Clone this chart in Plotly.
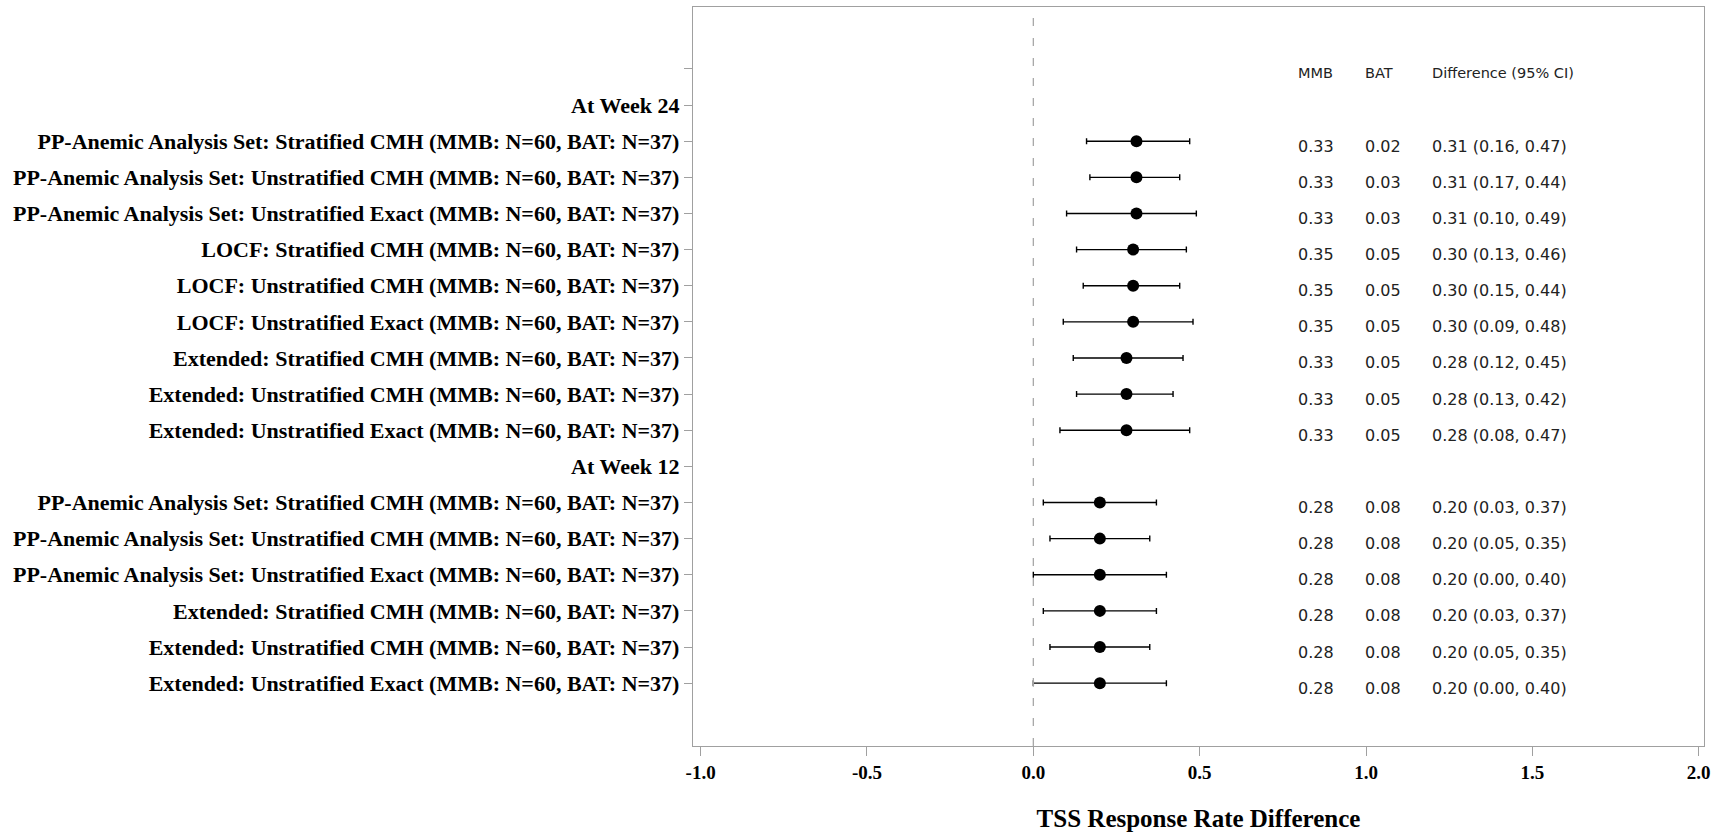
import plotly.graph_objects as go

# ---- data ----
row_labels = [
    "",
    "At Week 24",
    "PP-Anemic Analysis Set: Stratified CMH (MMB: N=60, BAT: N=37)",
    "PP-Anemic Analysis Set: Unstratified CMH (MMB: N=60, BAT: N=37)",
    "PP-Anemic Analysis Set: Unstratified Exact (MMB: N=60, BAT: N=37)",
    "LOCF: Stratified CMH (MMB: N=60, BAT: N=37)",
    "LOCF: Unstratified CMH (MMB: N=60, BAT: N=37)",
    "LOCF: Unstratified Exact (MMB: N=60, BAT: N=37)",
    "Extended: Stratified CMH (MMB: N=60, BAT: N=37)",
    "Extended: Unstratified CMH (MMB: N=60, BAT: N=37)",
    "Extended: Unstratified Exact (MMB: N=60, BAT: N=37)",
    "At Week 12",
    "PP-Anemic Analysis Set: Stratified CMH (MMB: N=60, BAT: N=37)",
    "PP-Anemic Analysis Set: Unstratified CMH (MMB: N=60, BAT: N=37)",
    "PP-Anemic Analysis Set: Unstratified Exact (MMB: N=60, BAT: N=37)",
    "Extended: Stratified CMH (MMB: N=60, BAT: N=37)",
    "Extended: Unstratified CMH (MMB: N=60, BAT: N=37)",
    "Extended: Unstratified Exact (MMB: N=60, BAT: N=37)",
]
# rows with estimates (index into row_labels)
est_rows = [2, 3, 4, 5, 6, 7, 8, 9, 10, 12, 13, 14, 15, 16, 17]
mmb = [0.33, 0.33, 0.33, 0.35, 0.35, 0.35, 0.33, 0.33, 0.33, 0.28, 0.28, 0.28, 0.28, 0.28, 0.28]
bat = [0.02, 0.03, 0.03, 0.05, 0.05, 0.05, 0.05, 0.05, 0.05, 0.08, 0.08, 0.08, 0.08, 0.08, 0.08]
diff = [0.31, 0.31, 0.31, 0.30, 0.30, 0.30, 0.28, 0.28, 0.28, 0.20, 0.20, 0.20, 0.20, 0.20, 0.20]
lower = [0.16, 0.17, 0.10, 0.13, 0.15, 0.09, 0.12, 0.13, 0.08, 0.03, 0.05, 0.00, 0.03, 0.05, 0.00]
upper = [0.47, 0.44, 0.49, 0.46, 0.44, 0.48, 0.45, 0.42, 0.47, 0.37, 0.35, 0.40, 0.37, 0.35, 0.40]
x_ticks = [-1.0, -0.5, 0.0, 0.5, 1.0, 1.5, 2.0]
x_tick_labels = ["-1.0", "-0.5", "0.0", "0.5", "1.0", "1.5", "2.0"]
col_headers = ["MMB", "BAT", "Difference (95% CI)"]
col_x = [0.8, 1.0, 1.2]
x_title = "TSS Response Rate Difference"

serif = "Liberation Serif"
sans = "DejaVu Sans"
frame = "#a0a0a0"

fig = go.Figure()
fig.add_trace(go.Scatter(
    x=diff, y=est_rows, mode="markers",
    marker=dict(color="black", size=12, symbol="circle"),
    error_x=dict(type="data", symmetric=False,
                 array=[u - d for u, d in zip(upper, diff)],
                 arrayminus=[d - l for d, l in zip(diff, lower)],
                 color="black", thickness=1.4, width=3),
    showlegend=False, hoverinfo="skip",
))

fig.add_shape(type="line", x0=0, x1=0, y0=0, y1=1, xref="x", yref="paper",
              line=dict(color="#a8a8a8", width=1.3, dash="8px,12px"))

annotations = []
for cx, h in zip(col_x, col_headers):
    annotations.append(dict(x=cx, y=0, xref="x", yref="y", text=h, showarrow=False,
                            xanchor="left", yanchor="middle", yshift=-4, xshift=-3,
                            font=dict(family=sans, size=14.5, color="#222")))
for r, m, b, d, l, u in zip(est_rows, mmb, bat, diff, lower, upper):
    texts = [f"{m:.2f}", f"{b:.2f}", f"{d:.2f} ({l:.2f}, {u:.2f})"]
    for cx, t in zip(col_x, texts):
        annotations.append(dict(x=cx, y=r, xref="x", yref="y", text=t, showarrow=False,
                                xanchor="left", yanchor="middle", yshift=-5, xshift=-3,
                                font=dict(family=sans, size=16, color="#222")))

fig.update_layout(
    width=1724, height=834,
    margin=dict(l=693, r=20, t=7, b=88),
    paper_bgcolor="white", plot_bgcolor="white",
    annotations=annotations,
    xaxis=dict(range=[-1.023, 2.016], tickvals=x_ticks, ticktext=x_tick_labels,
               showgrid=False, zeroline=False, showline=True, mirror=True,
               linecolor=frame, linewidth=1.3, ticks="outside", ticklen=9,
               tickcolor=frame, tickwidth=1.3,
               tickfont=dict(family=serif, size=19, color="black", weight="bold"),
               title=dict(text=x_title, standoff=27,
                          font=dict(family=serif, size=25, color="black", weight="bold"))),
    yaxis=dict(range=[18.74, -1.715], tickvals=list(range(len(row_labels))),
               ticktext=row_labels, showgrid=False, zeroline=False,
               showline=True, mirror=True, linecolor=frame, linewidth=1.3,
               ticks="outside", ticklen=8, tickcolor=frame, tickwidth=1.3,
               tickfont=dict(family=serif, size=22, color="black", weight="bold")),
)

fig.write_html("out.html")
